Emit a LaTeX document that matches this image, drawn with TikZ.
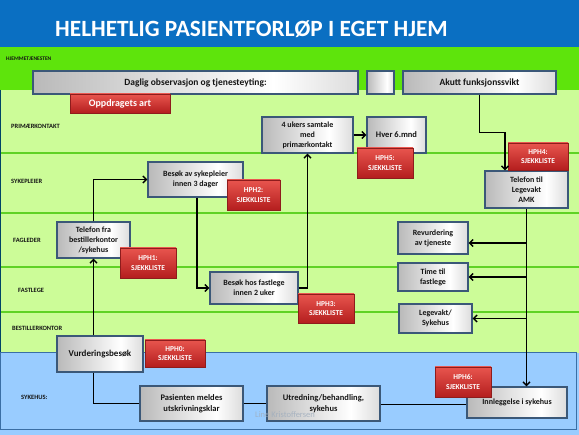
\documentclass[tikz,border=0pt]{standalone}
\usepackage{fontspec}
\setmainfont{Carlito}
\usetikzlibrary{shadows,calc,arrows.meta}
\definecolor{titleblue}{HTML}{0A6FC2}
\definecolor{brightgreen}{HTML}{5EE40C}
\definecolor{lightgreen}{HTML}{CCFC98}
\definecolor{laneline}{HTML}{5FD225}
\definecolor{lightblue}{HTML}{99CCFF}
\definecolor{blueborder}{HTML}{3A6EA5}
\definecolor{boxborder}{HTML}{3B5878}
\definecolor{mgrayL}{HTML}{8A8A8A}
\definecolor{mgrayR}{HTML}{989898}
\definecolor{redtop}{HTML}{E8554E}
\definecolor{redbot}{HTML}{B41E1E}
\definecolor{redborder}{HTML}{8E1C1C}
\definecolor{textdark}{HTML}{141414}
\definecolor{wmgray}{HTML}{A0AEBE}
\pgfdeclarehorizontalshading{metal}{100bp}{color(0bp)=(mgrayL); color(62bp)=(white); color(100bp)=(mgrayR)}
\tikzset{
  gbox/.style={draw=boxborder, line width=1.1pt, shading=metal, text=textdark,
    font=\bfseries\fontsize{8}{10}\selectfont, align=center, inner sep=1pt,
    drop shadow={opacity=0.3,shadow xshift=1.2pt,shadow yshift=-1.2pt}},
  rbox/.style={draw=redborder, line width=0.6pt, top color=redtop, bottom color=redbot,
    text=white, font=\bfseries\fontsize{7.5}{9.5}\selectfont, align=center, inner sep=1pt,
    drop shadow={opacity=0.3,shadow xshift=1.2pt,shadow yshift=-1.2pt}},
  lanelabel/.style={anchor=west, inner sep=0pt, text=textdark, font=\bfseries\fontsize{6.5}{7}\selectfont},
  conn/.style={line width=1.6pt, black},
  arr/.style={-{Straight Barb[length=3.5pt,width=7pt,line width=1.4pt]}},
}
\begin{document}
\begin{tikzpicture}[x=1pt,y=-1pt]
\useasboundingbox (0,0) rectangle (579,435);
% backgrounds
\fill[titleblue] (0,0) rectangle (579,47);
\fill[brightgreen] (0,47) rectangle (579,90);
\fill[lightgreen] (0,90) rectangle (579,353);
\foreach \yy in {153,213,267,312} \draw[laneline, line width=1.8pt] (0,\yy) -- (579,\yy);
\draw[green!45!black!60!blue, line width=1pt] (0.5,90) -- (0.5,353);
\fill[lightblue] (0,353) rectangle (579,435);
\draw[blueborder, line width=1pt] (0.5,353) rectangle (576,430);
% title
\node[anchor=west, text=white, inner sep=0pt, font=\bfseries\fontsize{23.3}{25}\selectfont] (title) at (55,29) {HELHETLIG PASIENTFORLØP I EGET HJEM};
% lane labels
\node[lanelabel, font=\bfseries\fontsize{5.5}{6}\selectfont] (lhj) at (6,59) {HJEMMETJENESTEN};
\node[lanelabel] (lpk) at (11,126) {PRIMÆRKONTAKT};
\node[lanelabel] (lsp) at (11,181) {SYKEPLEIER};
\node[lanelabel] (lfl) at (13,240) {FAGLEDER};
\node[lanelabel] (lfa) at (18,290) {FASTLEGE};
\node[lanelabel] (lbk) at (12,328) {BESTILLERKONTOR};
\node[lanelabel] (lsh) at (21,397) {SYKEHUS:};
% gray boxes
\node[gbox, minimum width=325, minimum height=23, font=\bfseries\fontsize{9.5}{11}\selectfont] (daglig) at (195.5,82.5) {Daglig observasjon og tjenesteyting:};
\node[gbox, minimum width=27, minimum height=23] (sq) at (380.5,82.5) {};
\node[gbox, minimum width=153, minimum height=23, font=\bfseries\fontsize{9.5}{11}\selectfont] (akutt) at (479.5,82.5) {Akutt funksjonssvikt};
\node[gbox, minimum width=91, minimum height=36] (ukers) at (307.5,135) {4 ukers samtale\\med\\primærkontakt};
\node[gbox, minimum width=59, minimum height=36, font=\bfseries\fontsize{8.5}{10}\selectfont] (hver) at (396.5,135) {Hver 6.mnd};
\node[gbox, minimum width=83, minimum height=37] (tellege) at (526.5,189.5) {Telefon til\\Legevakt\\AMK};
\node[gbox, minimum width=95, minimum height=35] (besokspl) at (195.5,179.5) {Besøk av sykepleier\\innen 3 dager};
\node[gbox, minimum width=73, minimum height=36] (telfra) at (93.5,240) {Telefon fra\\bestillerkontor\\/sykehus};
\node[gbox, minimum width=88, minimum height=32] (besokfl) at (254,288) {Besøk hos fastlege\\innen 2 uker};
\node[gbox, minimum width=70, minimum height=32] (revurd) at (433,238) {Revurdering\\av tjeneste};
\node[gbox, minimum width=70, minimum height=28] (time) at (433,277) {Time til\\fastlege};
\node[gbox, minimum width=73, minimum height=29] (legesyk) at (435.5,318.5) {Legevakt/\\Sykehus};
\node[gbox, minimum width=86, minimum height=36, font=\bfseries\fontsize{9}{10}\selectfont] (vurd) at (100,354) {Vurderingsbesøk};
\node[gbox, minimum width=103, minimum height=35, font=\bfseries\fontsize{8.5}{10.5}\selectfont] (pasient) at (191.5,403.5) {Pasienten meldes\\utskrivningsklar};
\node[gbox, minimum width=113, minimum height=35, font=\bfseries\fontsize{8.5}{10.5}\selectfont] (utred) at (323.5,403.5) {Utredning/behandling,\\sykehus};
\node[gbox, minimum width=100, minimum height=31] (innl) at (517,402.5) {Innleggelse i sykehus};
% red boxes
\node[rbox, minimum width=100, minimum height=19, font=\bfseries\fontsize{10}{11}\selectfont] (oppdrag) at (120,103.5) {Oppdragets art};
\node[rbox, minimum width=56, minimum height=30] (hph5) at (385,163) {HPH5:\\SJEKKLISTE};
\node[rbox, minimum width=60, minimum height=27] (hph4) at (538,156.5) {HPH4:\\SJEKKLISTE};
\node[rbox, minimum width=53, minimum height=30] (hph2) at (253.5,195) {HPH2:\\SJEKKLISTE};
\node[rbox, minimum width=56, minimum height=30] (hph1) at (148,263) {HPH1:\\SJEKKLISTE};
\node[rbox, minimum width=56, minimum height=29] (hph3) at (326,308.5) {HPH3:\\SJEKKLISTE};
\node[rbox, minimum width=60, minimum height=27] (hph0) at (175,353.5) {HPH0:\\SJEKKLISTE};
\node[rbox, minimum width=56, minimum height=30] (hph6) at (463,382) {HPH6:\\SJEKKLISTE};
% connectors
\coordinate (rv) at ($(revurd.east)+(0,5)$);
\draw[conn,arr] (telfra.south |- vurd.north) -- (telfra.south);
\draw[conn,arr] (telfra.north) |- (besokspl.west);
\draw[conn,arr] ([xshift=1.5pt]besokspl.south) |- (besokfl.west);
\draw[conn,arr] (besokfl.east) -| (ukers.south);
\draw[conn,arr] (ukers.east) -- (hver.west);
\draw[conn,arr] (akutt.south) -- ++(0,38) -| ([xshift=-21.5pt]tellege.north);
\draw[conn,arr] (tellege.south) -- (tellege.south |- innl.north);
\draw[conn,arr] (tellege.south |- rv) -- (rv);
\draw[conn,arr] (tellege.south |- time.east) -- (time.east);
\draw[conn,arr] (tellege.south |- legesyk.east) -- (legesyk.east);
\draw[conn] (telfra.south |- vurd.south) |- (pasient.west);
\draw[conn] (pasient.east) -- (pasient.east -| utred.west);
\draw[conn] ([yshift=-1pt]utred.east) -- ([yshift=-1pt]utred.east -| innl.west);
% watermark
\node[anchor=base west, inner sep=0pt, text=wmgray, opacity=0.85, font=\fontsize{8.5}{10}\selectfont] (wm) at (255,418) {Line Kristoffersen};
\end{tikzpicture}
\end{document}
